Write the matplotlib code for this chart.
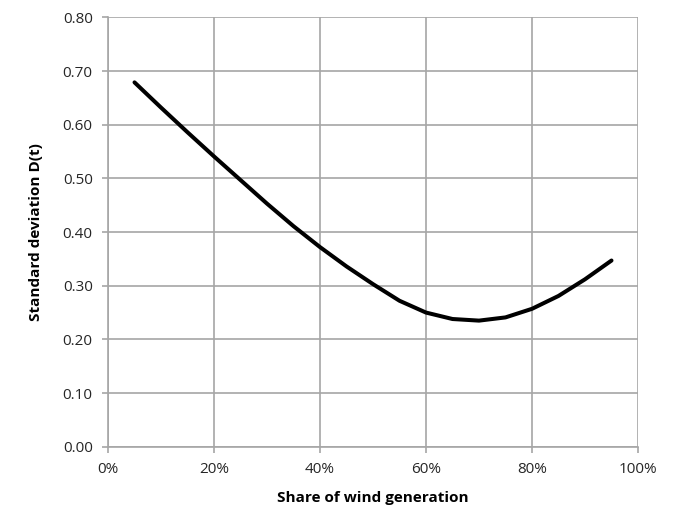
import matplotlib
matplotlib.use("Agg")
import matplotlib.pyplot as plt
from matplotlib.ticker import FuncFormatter

# share of wind generation (%) and standard deviation D(t)
share = [5, 10, 15, 20, 25, 30, 35, 40, 45, 50, 55, 60, 65, 70, 75, 80, 85, 90, 95]
std_dev = [0.679, 0.632, 0.586, 0.541, 0.497, 0.453, 0.411, 0.372, 0.336, 0.303,
           0.272, 0.250, 0.238, 0.235, 0.241, 0.257, 0.281, 0.312, 0.347]

x_ticks = [0, 20, 40, 60, 80, 100]
y_ticks = [0.0, 0.1, 0.2, 0.3, 0.4, 0.5, 0.6, 0.7, 0.8]

plt.rcParams['font.family'] = ['Open Sans', 'DejaVu Sans']
grid_col = '#a6a6a6'

fig = plt.figure(figsize=(6.73, 5.13), dpi=100)
ax = fig.add_axes([0.1605, 0.1292, 0.7875, 0.8368])

ax.plot(share, std_dev, color='black', lw=2.9, solid_capstyle='round',
        solid_joinstyle='round', zorder=3)

ax.set_xlim(0, 100)
ax.set_ylim(0, 0.8)
ax.set_xticks(x_ticks)
ax.set_yticks(y_ticks)
ax.xaxis.set_major_formatter(FuncFormatter(lambda v, p: f'{v:.0f}%'))
ax.yaxis.set_major_formatter(FuncFormatter(lambda v, p: f'{v:.2f}'))

ax.grid(True, color=grid_col, lw=1.2)
ax.set_axisbelow(True)
for side in ['top', 'right']:
    ax.spines[side].set_visible(False)
for side in ['left', 'bottom']:
    ax.spines[side].set_color(grid_col)
    ax.spines[side].set_linewidth(1.2)
ax.tick_params(axis='both', direction='out', length=4, width=1.2, color=grid_col,
               labelsize=11, labelcolor='#262626')
ax.tick_params(axis='x', pad=7)
ax.tick_params(axis='y', pad=7)

ax.set_xlabel('Share of wind generation', fontsize=11, fontweight='bold', labelpad=10)
ax.set_ylabel('Standard deviation D(t)', fontsize=11, fontweight='bold', labelpad=14)

fig.savefig('out.png', dpi=100)
